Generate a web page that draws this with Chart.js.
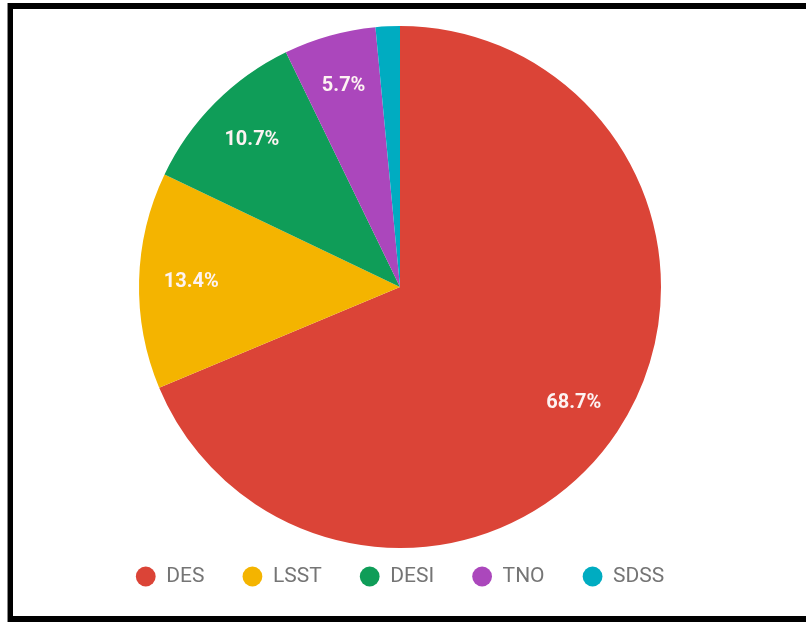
<!DOCTYPE html>
<html>
<head>
<meta charset="utf-8">
<script src="https://cdn.jsdelivr.net/npm/chart.js@4/dist/chart.umd.min.js"></script>
<style>
  html, body { margin: 0; padding: 0; background: #fff; }
  #wrap { position: absolute; left: 0; top: 0; width: 806px; height: 622px; }
  .frame {
    position: absolute; left: 8px; top: 3px; width: 798px; height: 619px;
    box-sizing: border-box;
    border-top: 6px solid #000; border-left: 5px solid #000; border-bottom: 6px solid #000;
    box-shadow: -1px 0 0 #888;
    pointer-events: none;
  }
</style>
</head>
<body>
<div id="wrap"><canvas id="chart"></canvas></div>
<div class="frame"></div>
<script>
// Data
const surveys = ['DES', 'LSST', 'DESI', 'TNO', 'SDSS'];
const shares = [68.7, 13.4, 10.7, 5.7, 1.5];
const colors = ['#DB4437', '#F4B400', '#0F9D58', '#AB47BC', '#00ACC1'];

// Percent labels inside the slices
const sliceLabels = {
  id: 'sliceLabels',
  afterDatasetsDraw(chart) {
    const ctx = chart.ctx;
    const meta = chart.getDatasetMeta(0);
    const total = shares.reduce((a, b) => a + b, 0);
    ctx.save();
    ctx.font = 'bold 20px Roboto';
    ctx.fillStyle = '#fdf3f2';
    ctx.textAlign = 'center';
    ctx.textBaseline = 'middle';
    meta.data.forEach((arc, i) => {
      const pct = shares[i] / total * 100;
      if (pct < 3) return; // too small, no label
      const mid = (arc.startAngle + arc.endAngle) / 2;
      const r = arc.outerRadius * 0.8;
      ctx.fillText(pct.toFixed(1) + '%', arc.x + Math.cos(mid) * r, arc.y + Math.sin(mid) * r);
    });
    ctx.restore();
  }
};

// Pull the legend row up closer to the pie
const legendShift = {
  id: 'legendShift',
  afterLayout(chart) {
    chart.legend.top -= 20;
    chart.legend.bottom -= 20;
  }
};

new Chart(document.getElementById('chart'), {
  type: 'pie',
  data: {
    labels: surveys,
    datasets: [{
      data: shares,
      backgroundColor: colors,
      borderWidth: 0,
      hoverOffset: 0
    }]
  },
  options: {
    responsive: true,
    maintainAspectRatio: false,
    animation: false,
    layout: { padding: { top: 26, left: 20, right: 26, bottom: 5 } },
    plugins: {
      tooltip: { enabled: false },
      legend: {
        position: 'bottom',
        labels: {
          usePointStyle: true,
          pointStyle: 'circle',
          boxWidth: 20,
          boxHeight: 14,
          padding: 38,
          color: '#757575',
          font: { family: 'Roboto', size: 21 }
        }
      }
    }
  },
  plugins: [sliceLabels, legendShift]
});
</script>
</body>
</html>
